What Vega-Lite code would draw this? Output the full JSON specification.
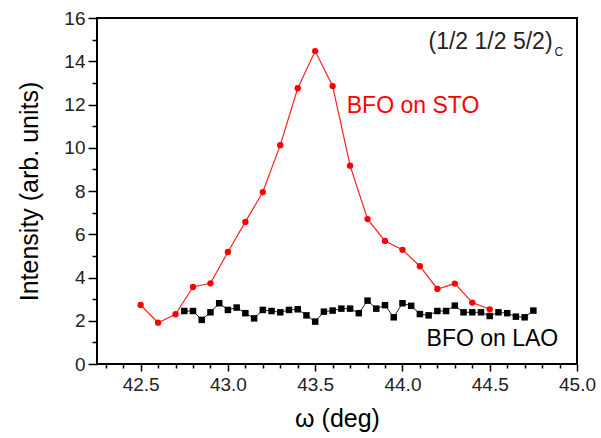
{
  "$schema": "https://vega.github.io/schema/vega-lite/v6.json",
  "width": 480,
  "height": 346,
  "autosize": "none",
  "padding": {"left": 97, "top": 18, "right": 24, "bottom": 74},
  "background": "white",
  "config": {
    "view": {"stroke": "black", "strokeWidth": 2},
    "font": "Liberation Sans"
  },
  "datasets": {
    "sto": [
      {"w": 42.5, "I": 2.73}, {"w": 42.6, "I": 1.91}, {"w": 42.7, "I": 2.30},
      {"w": 42.8, "I": 3.56}, {"w": 42.9, "I": 3.73}, {"w": 43.0, "I": 5.18},
      {"w": 43.1, "I": 6.57}, {"w": 43.2, "I": 7.95}, {"w": 43.3, "I": 10.12},
      {"w": 43.4, "I": 12.75}, {"w": 43.5, "I": 14.47}, {"w": 43.6, "I": 12.85},
      {"w": 43.7, "I": 9.17}, {"w": 43.8, "I": 6.70}, {"w": 43.9, "I": 5.69},
      {"w": 44.0, "I": 5.28}, {"w": 44.1, "I": 4.52}, {"w": 44.2, "I": 3.47},
      {"w": 44.3, "I": 3.72}, {"w": 44.4, "I": 2.84}, {"w": 44.5, "I": 2.53}
    ],
    "lao": [
      {"w": 42.75, "I": 2.45}, {"w": 42.80, "I": 2.45}, {"w": 42.85, "I": 2.04},
      {"w": 42.90, "I": 2.39}, {"w": 42.95, "I": 2.81}, {"w": 43.00, "I": 2.50},
      {"w": 43.05, "I": 2.61}, {"w": 43.10, "I": 2.35}, {"w": 43.15, "I": 2.11},
      {"w": 43.20, "I": 2.50}, {"w": 43.25, "I": 2.45}, {"w": 43.30, "I": 2.39},
      {"w": 43.35, "I": 2.50}, {"w": 43.40, "I": 2.53}, {"w": 43.45, "I": 2.25},
      {"w": 43.50, "I": 1.96}, {"w": 43.55, "I": 2.42}, {"w": 43.60, "I": 2.47},
      {"w": 43.65, "I": 2.56}, {"w": 43.70, "I": 2.56}, {"w": 43.75, "I": 2.35},
      {"w": 43.80, "I": 2.93}, {"w": 43.85, "I": 2.56}, {"w": 43.90, "I": 2.72},
      {"w": 43.95, "I": 2.16}, {"w": 44.00, "I": 2.81}, {"w": 44.05, "I": 2.69},
      {"w": 44.10, "I": 2.31}, {"w": 44.15, "I": 2.25}, {"w": 44.20, "I": 2.45},
      {"w": 44.25, "I": 2.45}, {"w": 44.30, "I": 2.70}, {"w": 44.35, "I": 2.39},
      {"w": 44.40, "I": 2.39}, {"w": 44.45, "I": 2.39}, {"w": 44.50, "I": 2.22},
      {"w": 44.55, "I": 2.39}, {"w": 44.60, "I": 2.35}, {"w": 44.65, "I": 2.19},
      {"w": 44.70, "I": 2.16}, {"w": 44.75, "I": 2.47}
    ],
    "t_hkl": [{"w": 44.86, "I": 14.88, "text": "(1/2 1/2 5/2)"}],
    "t_sub": [{"w": 44.871, "I": 14.45, "text": "C"}],
    "t_sto": [{"w": 43.681, "I": 11.94, "text": "BFO on STO"}],
    "t_lao": [{"w": 44.138, "I": 1.16, "text": "BFO on LAO"}]
  },
  "encoding": {
    "x": {
      "field": "w", "type": "quantitative",
      "scale": {"domain": [42.25, 45.0], "nice": false, "zero": false},
      "axis": {
        "title": "ω (deg)",
        "titleFont": "Liberation Sans", "titleFontSize": 25, "titleFontWeight": "normal", "titleColor": "black",
        "titlePadding": 12,
        "values": [42.3, 42.4, 42.5, 42.6, 42.7, 42.8, 42.9, 43.0, 43.1, 43.2, 43.3, 43.4, 43.5, 43.6, 43.7, 43.8, 43.9, 44.0, 44.1, 44.2, 44.3, 44.4, 44.5, 44.6, 44.7, 44.8, 44.9, 45.0],
        "labelExpr": "round(datum.value*10) % 5 == 0 ? format(datum.value, '.1f') : ''",
        "labelOverlap": false,
        "labelFontSize": 19, "labelColor": "#222", "labelPadding": 4, "labelFlush": false,
        "domain": false, "grid": false,
        "tickColor": "black", "tickWidth": 1.5,
        "tickSize": {"condition": {"test": "round(datum.value*10) % 5 == 0", "value": 7}, "value": 4}
      }
    },
    "y": {
      "field": "I", "type": "quantitative",
      "scale": {"domain": [0, 16], "nice": false, "zero": true},
      "axis": {
        "title": "Intensity (arb. units)",
        "titleFont": "Liberation Sans", "titleFontSize": 25, "titleFontWeight": "normal", "titleColor": "black",
        "titlePadding": 21,
        "values": [0, 1, 2, 3, 4, 5, 6, 7, 8, 9, 10, 11, 12, 13, 14, 15, 16],
        "labelExpr": "datum.value % 2 == 0 ? datum.value : ''",
        "labelOverlap": false,
        "labelFontSize": 19, "labelColor": "#222", "labelPadding": 3, "labelFlush": false,
        "domain": false, "grid": false,
        "tickColor": "black", "tickWidth": 1.5,
        "tickSize": {"condition": {"test": "datum.value % 2 == 0", "value": 9}, "value": 5}
      }
    }
  },
  "layer": [
    {
      "data": {"name": "lao"},
      "mark": {"type": "line", "color": "#222", "strokeWidth": 1, "point": {"shape": "square", "filled": true, "size": 42, "color": "black"}}
    },
    {
      "data": {"name": "sto"},
      "mark": {"type": "line", "color": "#ff2020", "strokeWidth": 1.2, "point": {"shape": "circle", "filled": true, "size": 40, "color": "#ff0000"}}
    },
    {
      "data": {"name": "t_hkl"},
      "mark": {"type": "text", "align": "right", "baseline": "middle", "fontSize": 23, "color": "#222", "font": "Liberation Sans"},
      "encoding": {"text": {"field": "text"}}
    },
    {
      "data": {"name": "t_sub"},
      "mark": {"type": "text", "align": "left", "baseline": "middle", "fontSize": 12, "color": "#222", "font": "Liberation Sans"},
      "encoding": {"text": {"field": "text"}}
    },
    {
      "data": {"name": "t_sto"},
      "mark": {"type": "text", "align": "left", "baseline": "middle", "fontSize": 23, "color": "#ff0000", "font": "Liberation Sans"},
      "encoding": {"text": {"field": "text"}}
    },
    {
      "data": {"name": "t_lao"},
      "mark": {"type": "text", "align": "left", "baseline": "middle", "fontSize": 23, "color": "black", "font": "Liberation Sans"},
      "encoding": {"text": {"field": "text"}}
    }
  ]
}
